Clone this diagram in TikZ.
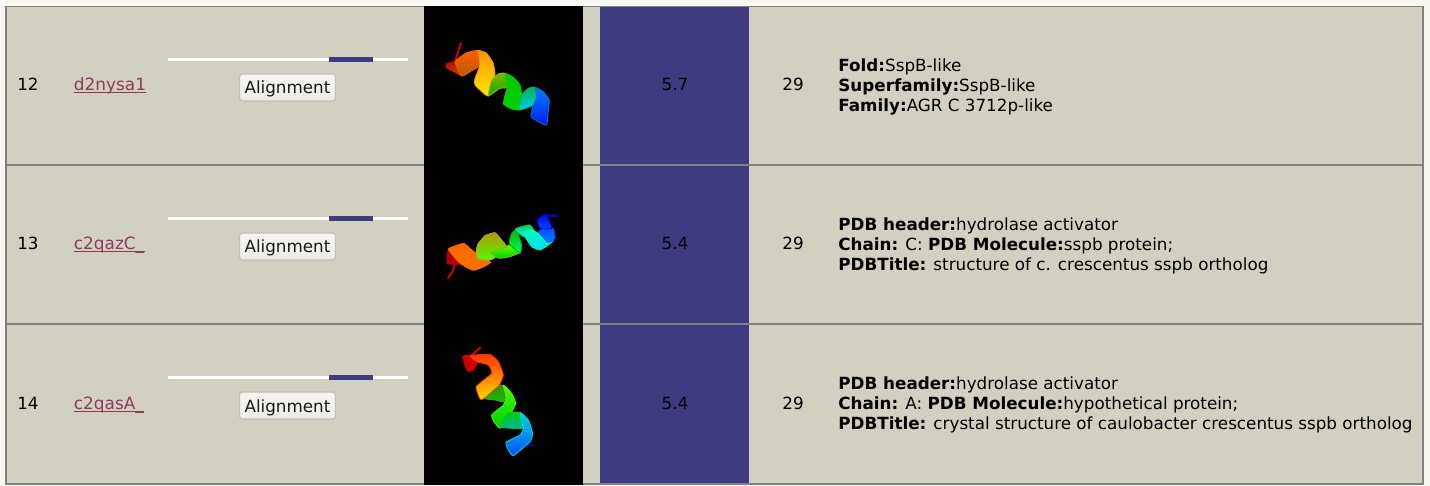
\documentclass[tikz,border=0pt]{standalone}
\usepackage{fontspec}
\setmainfont{DejaVu Sans}
\definecolor{cell}{HTML}{D2D0C0}
\definecolor{rule}{HTML}{808080}
\definecolor{bar}{HTML}{3F3B80}
\definecolor{linkc}{HTML}{8E3A59}
\definecolor{page}{HTML}{F8F8F2}
\definecolor{btnA}{HTML}{F7F5F2}
\definecolor{btnB}{HTML}{EDEBE6}
\tikzset{
  txt/.style={font=\fontsize{8.38pt}{10pt}\selectfont,inner sep=0pt,text=black},
  numtxt/.style={txt,anchor=base},
  linktxt/.style={txt,anchor=base west,text=linkc,font=\fontsize{8.45pt}{10pt}\selectfont},
  ulink/.style={linkc,line width=0.5pt},
  infotxt/.style={txt,anchor=base west},
  btn/.style={txt,rounded corners=1.5pt,draw=black!25,line width=0.6pt,top color=btnA,bottom color=btnB,minimum width=48pt,minimum height=13.5pt,text=black!90,text height=6.5pt,text depth=0pt},
  whiteline/.style={fill=white},
  barline/.style={fill=bar},
}
\newcommand{\rib}[5]{\shadedraw[draw=#2,line width=0.4pt,line join=round,shading angle=#1,top color=#2,middle color=#3,bottom color=#4] plot[smooth cycle,tension=.25] coordinates {#5};}
\begin{document}
\begin{tikzpicture}[x=0.5pt,y=-0.5pt]
\useasboundingbox (0,0) rectangle (1430,486);
\fill[page] (0,0) rectangle (1430,486);
% table body
\fill[rule] (5,6) rectangle (1423.5,485);
\fill[cell] (7,7.5) rectangle (1422,164);
\fill[cell] (7,166) rectangle (1422,323);
\fill[cell] (7,325) rectangle (1422,483);
% score cells
\fill[bar] (600,7.5) rectangle (749,164);
\fill[bar] (600,166) rectangle (749,323);
\fill[bar] (600,325) rectangle (749,483);
% image cell
\fill[black] (424,6) rectangle (583,485);
% alignment bars
\foreach \yy in {58,217,376}{
  \fill[whiteline] (168,\yy) rectangle (408,\yy+3);
  \fill[barline] (329,\yy-1) rectangle (373,\yy+4);
}
% row 12
\node[numtxt] (n12) at (28,91) {12};
\node[linktxt] (l12) at (73.5,91) {d2nysa1};
\draw[ulink] ([yshift=-1pt]l12.base west) -- ([yshift=-1pt]l12.base east);
\node[btn] (b12) at (287.5,87.5) {Alignment};
\node[numtxt] (s12) at (675,91) {5.7};
\node[numtxt] (c12) at (793,91) {29};
\node[infotxt] (a12) at (838,71.5) {\textbf{Fold:}SspB-like};
\node[infotxt] (d12) at (838,91.5) {\textbf{Superfamily:}SspB-like};
\node[infotxt] (e12) at (838,111.5) {\textbf{Family:}AGR C 3712p-like};
% row 13
\node[numtxt] (n13) at (28,250) {13};
\node[linktxt] (l13) at (73.5,250) {c2qazC\_};
\draw[ulink] ([yshift=-1pt]l13.base west) -- ([yshift=-1pt]l13.base east);
\node[btn] (b13) at (287.5,246.5) {Alignment};
\node[numtxt] (s13) at (675,250) {5.4};
\node[numtxt] (c13) at (793,250) {29};
\node[infotxt] (a13) at (838,230.5) {\textbf{PDB header:}hydrolase activator};
\node[infotxt] (d13) at (838,250.5) {\textbf{Chain:} C: \textbf{PDB Molecule:}sspb protein;};
\node[infotxt] (e13) at (838,270.5) {\textbf{PDBTitle:} structure of c. crescentus sspb ortholog};
% row 14
\node[numtxt] (n14) at (28,409) {14};
\node[linktxt] (l14) at (73.5,409) {c2qasA\_};
\draw[ulink] ([yshift=-1pt]l14.base west) -- ([yshift=-1pt]l14.base east);
\node[btn] (b14) at (287.5,405.5) {Alignment};
\node[numtxt] (s14) at (675,409) {5.4};
\node[numtxt] (c14) at (793,409) {29};
\node[infotxt] (a14) at (838,389.5) {\textbf{PDB header:}hydrolase activator};
\node[infotxt] (d14) at (838,409.5) {\textbf{Chain:} A: \textbf{PDB Molecule:}hypothetical protein;};
\node[infotxt] (e14) at (838,429.5) {\textbf{PDBTitle:} crystal structure of caulobacter crescentus sspb ortholog};
% helix 1
\begin{scope}[shift={(420,0)},x=0.16667pt,y=-0.16667pt]
\draw[red!85!black,line width=0.9pt] (123,128) -- (103,192);
\rib{300}{red!75!black}{red!80!orange}{orange!70!black}{(78,192) (105,185) (125,228) (100,215) (80,205)}
\rib{90}{orange!75!red}{orange!80!white}{orange!70!black}{(105,185) (140,158) (175,152) (182,195) (150,215) (125,228)}
\rib{0}{orange!85!yellow}{yellow!60!white}{yellow!85!orange}{(175,152) (200,160) (220,190) (225,230) (205,288) (185,275) (165,255) (165,235) (180,195)}
\rib{90}{yellow!80!green!70!black}{yellow!60!green}{green!70!black}{(205,288) (215,240) (235,222) (255,220) (264,262) (240,265)}
\rib{0}{green!80!black}{green!85!yellow}{green!80!black}{(255,220) (280,232) (300,255) (305,290) (298,330) (270,325) (250,312) (255,285) (262,262)}
\rib{90}{green!60!cyan!70!black}{teal!50!cyan}{cyan!80!blue}{(298,330) (305,285) (325,265) (345,262) (350,300) (335,318)}
\rib{0}{cyan!50!blue}{cyan!50!white}{blue!90!cyan}{(345,262) (370,275) (388,300) (385,330) (380,375) (355,365) (333,350) (338,320) (350,290)}
\end{scope}
% helix 2
\begin{scope}[shift={(420,165)},x=0.16667pt,y=-0.16667pt]
\draw[red!85!black,line width=0.9pt] (83,340) .. controls (95,325) and (100,315) .. (105,295);
\rib{0}{red!65!black}{red!80!black}{red!75!black}{(82,295) (82,260) (95,250) (125,298)}
\rib{0}{orange!80!red}{orange!70!yellow}{orange!90!red}{(85,252) (130,235) (150,250) (175,270) (212,292) (185,308) (160,316) (135,305) (115,290)}
\rib{90}{yellow!70!orange!70!black}{yellow!80!green}{green!70!yellow}{(170,280) (172,240) (195,212) (225,203) (245,225) (262,250) (212,285)}
\rib{90}{yellow!40!green}{green!90!black}{green!80!black}{(213,262) (255,248) (268,240) (300,262) (270,275) (240,280) (225,275)}
\rib{90}{green!70!black}{green!75!black}{green!60!cyan}{(268,235) (275,205) (290,195) (305,240) (300,265)}
\rib{90}{green!60!cyan!80!black}{green!50!cyan}{cyan}{(285,192) (330,180) (352,215) (310,215)}
\rib{90}{green!30!cyan}{cyan!85!white}{cyan!85!blue}{(310,205) (335,195) (355,205) (400,225) (385,240) (360,255) (335,245)}
\rib{0}{blue!70!cyan}{cyan!40!blue}{cyan!50!blue}{(378,190) (400,190) (405,220) (385,232) (355,200)}
\rib{0}{blue!90!black}{blue!80!cyan}{blue!70!cyan}{(352,165) (378,147) (395,190) (360,190)}
\draw[blue!85!black,line width=0.9pt] (372,152) -- (414,153);
\end{scope}
% helix 3
\begin{scope}[shift={(420,325)},x=0.16667pt,y=-0.16667pt]
\draw[red!85!black,line width=0.9pt] (182,67) -- (145,100);
\draw[blue!70!black,line width=0.8pt] (320,360) -- (340,360);
\rib{0}{red!85!black}{red!85!black}{red!75!black}{(128,94) (165,90) (175,105) (160,135) (142,138)}
\rib{0}{red!60!orange}{orange}{yellow!70!orange}{(150,92) (210,88) (235,110) (250,150) (235,185) (190,222) (180,222) (168,185) (215,145) (205,120) (170,110)}
\rib{90}{yellow!60!green!50!black}{yellow!50!green}{green!80!black}{(195,220) (240,180) (262,190) (250,230) (225,225)}
\rib{0}{green!75!yellow}{green!85!white}{green!80!black}{(250,180) (275,205) (287,235) (270,270) (240,310) (222,290) (215,270) (250,240) (258,215)}
\rib{90}{green!80!black}{green!50!teal}{teal!60!cyan}{(240,305) (265,265) (300,262) (320,285) (310,310) (275,310)}
\rib{0}{teal!30!cyan}{cyan!70!white}{cyan!30!blue}{(300,262) (325,285) (338,325) (330,350) (280,392) (265,375) (258,352) (300,330) (310,310)}
\end{scope}
\end{tikzpicture}
\end{document}
